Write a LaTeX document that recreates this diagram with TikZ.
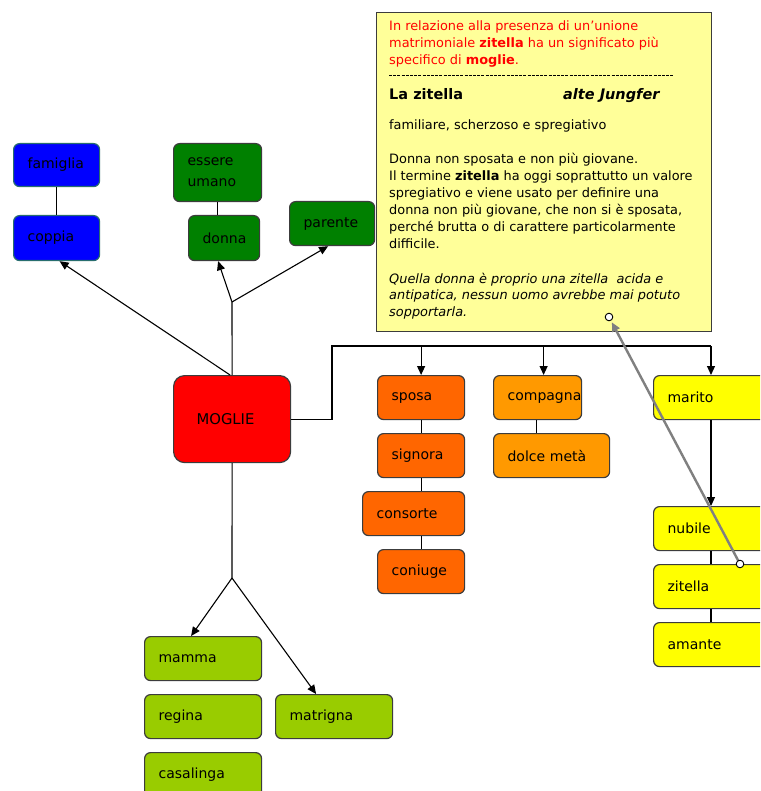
\documentclass[tikz,border=0pt]{standalone}
\usepackage{fontspec}
\setmainfont{DejaVu Sans}
\usetikzlibrary{arrows.meta,calc}
\definecolor{bordc}{RGB}{60,60,60}
\definecolor{cblue}{RGB}{0,0,255}
\definecolor{cblueb}{RGB}{40,110,110}
\definecolor{cgreen}{RGB}{0,128,0}
\definecolor{cred}{RGB}{255,0,0}
\definecolor{corange}{RGB}{255,102,0}
\definecolor{clorange}{RGB}{255,153,0}
\definecolor{cyellow}{RGB}{255,255,0}
\definecolor{clime}{RGB}{153,204,0}
\definecolor{cnote}{RGB}{255,255,153}
\definecolor{cgrey}{RGB}{128,128,128}
\begin{document}
\begin{tikzpicture}[x=1pt,y=-1pt,
  box/.style={draw=bordc, line width=1.2pt, rounded corners=6pt, anchor=north west,
    inner xsep=14pt, inner ysep=0pt, align=left,
    font=\fontsize{14}{16}\selectfont, minimum height=44pt},
  arr/.style={line width=1.1pt, -{Triangle[length=9pt,width=8pt]}},
  ln/.style={line width=1.1pt},
  nt/.style={anchor=base west, inner sep=0pt, font=\fontsize{12.9}{15}\selectfont},
  nti/.style={nt, font=\fontsize{12.9}{15}\selectfont\itshape},
]
\useasboundingbox (0,0) rectangle (760,791);
\clip (0,0) rectangle (760,791);
\fill[white] (0,0) rectangle (760,791);

% blue
\node[box, draw=cblueb, fill=cblue, text width=58pt, minimum height=43pt] (famiglia) at (13,143) {famiglia};
\node[box, draw=cblueb, fill=cblue, text width=58pt, minimum height=45pt] (coppia) at (13,215) {coppia};
% green
\node[box, fill=cgreen, text width=60pt, minimum height=58pt, font=\fontsize{14}{21}\selectfont] (essere) at (173,143) {essere\\umano};
\node[box, fill=cgreen, text width=43pt, minimum height=45pt] (donna) at (188,215) {donna};
\node[box, fill=cgreen, text width=57pt] (parente) at (289,201) {parente};
% central
\node[box, fill=cred, rounded corners=11pt, inner xsep=23pt, text width=71pt, minimum height=87pt,
  font=\fontsize{14.8}{17}\selectfont] (moglie) at (173,375) {MOGLIE};
% orange column
\node[box, fill=corange, text width=59pt] (sposa) at (377,375) {sposa};
\node[box, fill=corange, text width=59pt] (signora) at (377,433) {signora};
\node[box, fill=corange, text width=74pt] (consorte) at (362,491) {consorte};
\node[box, fill=corange, text width=59pt] (coniuge) at (377,549) {coniuge};
% light orange
\node[box, fill=clorange, text width=60pt] (compagna) at (493,375) {compagna};
\node[box, fill=clorange, text width=88pt] (dolce) at (493,433) {dolce metà};
% yellow
\node[box, fill=cyellow, text width=92pt] (marito) at (653,375) {marito};
\node[box, fill=cyellow, text width=92pt] (nubile) at (653,506) {nubile};
\node[box, fill=cyellow, text width=92pt] (zitella) at (653,564) {zitella};
\node[box, fill=cyellow, text width=92pt] (amante) at (653,622) {amante};
% lime
\node[box, fill=clime, text width=89pt] (mamma) at (144,636) {mamma};
\node[box, fill=clime, text width=89pt] (regina) at (144,694) {regina};
\node[box, fill=clime, text width=89pt] (matrigna) at (275,694) {matrigna};
\node[box, fill=clime, text width=89pt] (casalinga) at (144,752) {casalinga};

% note
\node[draw=bordc, line width=1.2pt, fill=cnote, anchor=north west, inner sep=0pt,
  minimum width=335pt, minimum height=319pt] (note) at (376,12) {};
\node[nt, text=cred] (t1) at (389,31) {In relazione alla presenza di un’unione};
\node[nt, text=cred] (t2) at (389,47.7) {matrimoniale \textbf{zitella} ha un significato più};
\node[nt, text=cred] (t3) at (389,64.4) {specifico di \textbf{moglie}.};
\draw[line width=1pt, dash pattern=on 3pt off 1.2pt] (389,76) -- (673,76);
\node[nt, font=\fontsize{14.5}{17}\selectfont\bfseries] (t4) at (389,100) {La zitella};
\node[nt, font=\fontsize{14.5}{17}\selectfont\bfseries\itshape] (t4b) at (563,100) {alte Jungfer};
\node[nt] (t5) at (389,130) {familiare, scherzoso e spregiativo};
\node[nt] (t6) at (389,164) {Donna non sposata e non più giovane.};
\node[nt] (t7) at (389,181) {Il termine \textbf{zitella} ha oggi soprattutto un valore};
\node[nt] (t8) at (389,198) {spregiativo e viene usato per definire una};
\node[nt] (t9) at (389,215) {donna non più giovane, che non si è sposata,};
\node[nt] (t10) at (389,232) {perché brutta o di carattere particolarmente};
\node[nt] (t11) at (389,248) {difficile.};
\node[nti] (t12) at (389,283) {Quella donna è proprio una zitella\ \ acida e};
\node[nti] (t13) at (389,299.5) {antipatica, nessun uomo avrebbe mai potuto};
\node[nti] (t14) at (389,316) {sopportarla.};

% coordinates
\coordinate (b1) at (232,302);
\coordinate (b2) at (232,578);
\coordinate (h1) at (332,346);
\coordinate (h2) at (711,346);

% simple links
\draw[ln] (famiglia.south) -- (coppia.north);
\draw[ln] (essere.south) -- (essere.south |- donna.north);
\draw[ln] (sposa.south) -- (signora.north);
\draw[ln] (signora.south) -- (signora.south |- consorte.north);
\draw[ln] (coniuge.north |- consorte.south) -- (coniuge.north);
\draw[ln] ([xshift=-1pt]compagna.south) -- ([xshift=-1pt]compagna.south |- dolce.north);
\draw[ln] (h2 |- nubile.south) -- (h2 |- zitella.north);
\draw[ln] (h2 |- zitella.south) -- (h2 |- amante.north);

% upper branches
\draw[ln] (moglie.north) -- (b1);
\draw[arr] (b1) -- ([xshift=-6pt]donna.south);
\draw[arr] (b1) -- ([xshift=-4pt]parente.south);
\draw[arr] ([xshift=-2pt]moglie.north) -- ([xshift=3pt]coppia.south);

% right branches
\draw[ln] (moglie.east) -| (h1) -- (h2);
\draw[arr] (sposa.north |- h1) -- (sposa.north);
\draw[arr] ([xshift=6pt]compagna.north |- h1) -- ([xshift=6pt]compagna.north);
\draw[arr] (h2) -- (h2 |- marito.north);
\draw[arr] (h2 |- marito.south) -- (h2 |- nubile.north);

% lower branches
\draw[ln] (moglie.south) -- (b2);
\draw[arr] (b2) -- ([xshift=-12pt]mamma.north);
\draw[arr] (b2) -- ([xshift=-18pt]matrigna.north);

% grey link from zitella to note
\coordinate (zc) at ($(zitella.north west)+(87,0)$);
\coordinate (tc) at ($(note.north west)+(233,305)$);
\draw[cgrey, line width=2.4pt, -{Triangle[length=9pt,width=8pt]}, shorten >=6pt] (zc) -- (tc);
\draw[line width=0.9pt, fill=white] (zc) circle (3.8);
\draw[line width=0.9pt, fill=white] (tc) circle (3.8);
\end{tikzpicture}
\end{document}
